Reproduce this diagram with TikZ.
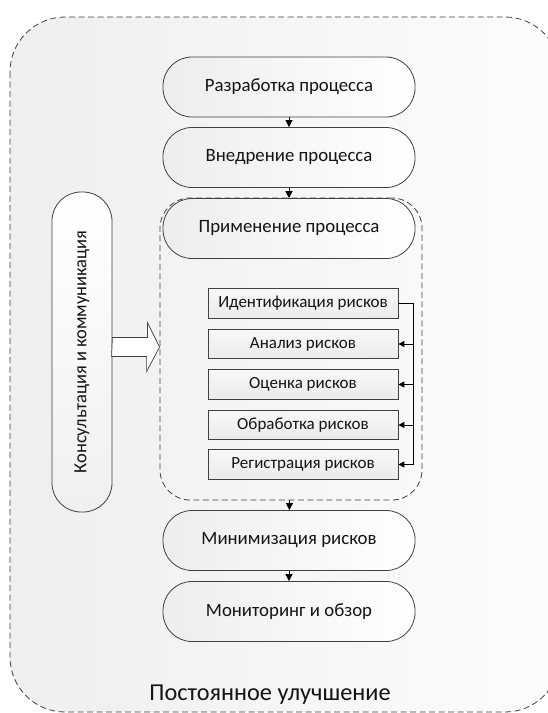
\documentclass[tikz,border=0pt]{standalone}
\usepackage{fontspec}
\setmainfont{Carlito}
\usetikzlibrary{arrows.meta,calc,shapes.misc}
\definecolor{edge}{HTML}{404040}
\definecolor{txt}{HTML}{141414}
\tikzset{
  mainbox/.style={draw=edge, line width=0.8pt, rounded corners=29pt, minimum width=252pt, minimum height=60pt,
    left color=gray!14, right color=white, text=txt, font=\fontsize{18.8}{22}\selectfont, inner sep=0pt},
  riskbox/.style={draw=edge, line width=0.7pt, minimum width=190pt, minimum height=29.5pt,
    top color=gray!6, bottom color=gray!16, text=txt, font=\fontsize{17}{20}\selectfont, inner sep=0pt},
  dashline/.style={draw=edge, dash pattern=on 6pt off 3.5pt, line width=0.8pt},
  flow/.style={-{Triangle[width=7pt,length=7pt]}, line width=0.8pt, draw=black},
  rail/.style={-{Triangle[width=6pt,length=6pt]}, line width=1pt, draw=black}
}
\begin{document}
\begin{tikzpicture}[x=1pt,y=-1pt]
\useasboundingbox (0,0) rectangle (548,713);
\fill[white] (0,0) rectangle (548,713);
\begin{scope}
\clip (0,0) rectangle (548,713);
\shade[left color=gray!13, right color=gray!2, rounded corners=55pt] (10,17) rectangle (560,712);
\draw[dashline, rounded corners=55pt] (10,17) rectangle (560,712);
\end{scope}

\node[mainbox] (razr) at (289,87) {Разработка процесса};
\node[mainbox] (vned) at (289,157.5) {Внедрение процесса};
\node[dashline, rounded corners=30pt, minimum width=262pt, minimum height=302pt, inner sep=0pt] (zone) at (291,349) {};
\node[mainbox] (prim) at (289,228.5) {Применение процесса};

\node[riskbox] (ident) at (303,303.5) {Идентификация рисков};
\node[riskbox] (anal) at (303,344) {Анализ рисков};
\node[riskbox] (ocen) at (303,384.5) {Оценка рисков};
\node[riskbox] (obr) at (303,425) {Обработка рисков};
\node[riskbox] (reg) at (303,464.5) {Регистрация рисков};

\coordinate (railtop) at ($(ident.east)+(15,0)$);
\draw[line width=1pt] (ident.east) -- (railtop) -- (railtop |- reg.east);
\draw[rail] (railtop |- anal.east) -- (anal.east);
\draw[rail] (railtop |- ocen.east) -- (ocen.east);
\draw[rail] (railtop |- obr.east) -- (obr.east);
\draw[rail] (railtop |- reg.east) -- (reg.east);

\node[mainbox] (mini) at (289,540.5) {Минимизация рисков};
\node[mainbox] (mon) at (289,611.5) {Мониторинг и обзор};

\draw[flow] (razr) -- (vned);
\draw[flow] (vned) -- (prim);
\draw[flow] (zone) -- (mini);
\draw[flow] (mini) -- (mon);

\node[draw=edge, line width=0.8pt, rounded corners=29pt, minimum width=60pt, minimum height=320pt, inner sep=0pt,
  top color=white, bottom color=gray!12] (kons) at (82,352) {};
\node[rotate=90, text=txt, font=\fontsize{18.5}{22}\selectfont] (konstext) at (kons.center) {Консультация и коммуникация};

\coordinate (ka) at ($(kons.east)+(0,-5)$);
\draw[edge, line width=0.7pt, fill=white] (ka) ++(0,-9.5) -- ++(35,0) -- ++(0,-15) -- (zone.west |- ka) -- ++(-13,24.5) -- ++(0,-15) -- ++(-35,0) -- cycle;

\node[text=txt, font=\fontsize{24.3}{28}\selectfont] (post) at (270,695) {Постоянное улучшение};
\end{tikzpicture}
\end{document}
